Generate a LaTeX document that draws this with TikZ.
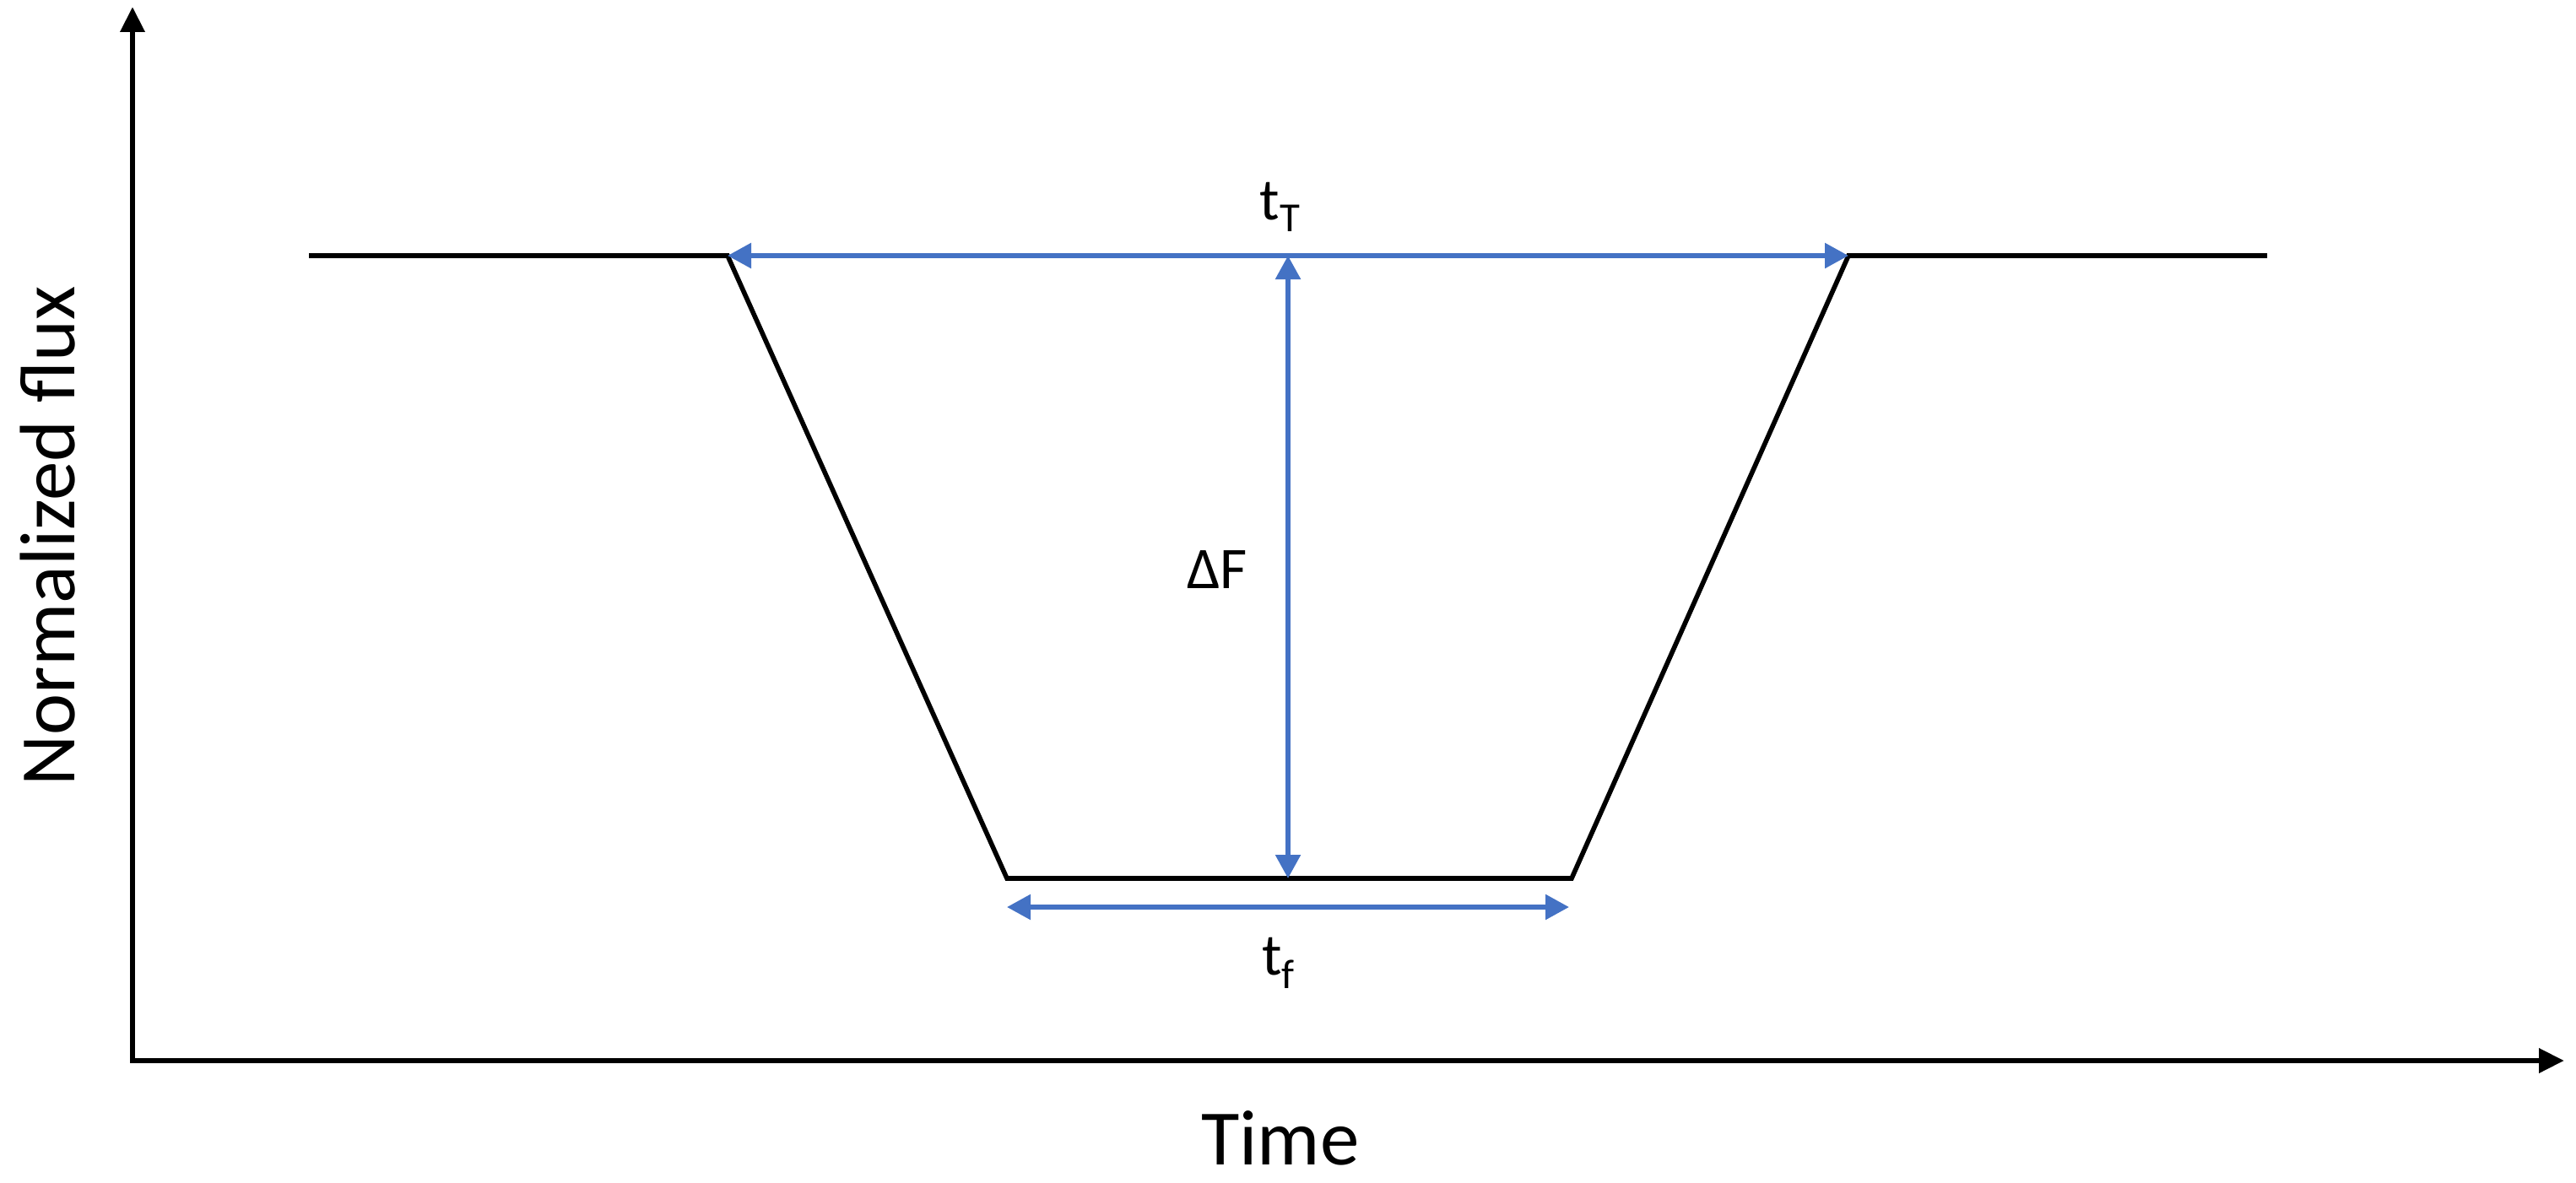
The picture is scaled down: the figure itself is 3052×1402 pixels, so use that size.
\documentclass[tikz,border=0pt]{standalone}
\usepackage{fontspec}
\setmainfont{Carlito}
\usetikzlibrary{arrows.meta}
\definecolor{blueline}{HTML}{4472C4}
\begin{document}
\begin{tikzpicture}[x=0.5pt,y=-0.5pt,
  axis/.style={line width=3.3pt,line join=miter,{Triangle[length=15pt,width=14pt]}-{Triangle[length=15pt,width=14pt]}},
  curve/.style={line width=2.8pt,line join=miter},
  dim/.style={blueline,line width=2.8pt,{Triangle[length=14pt,width=14.5pt]}-{Triangle[length=14pt,width=14.5pt]}},
  big/.style={font=\fontsize{46.5}{50}\selectfont,inner sep=0pt},
  lab/.style={font=\fontsize{35}{40}\selectfont,inner sep=0pt}]
\useasboundingbox (0,0) rectangle (3052,1402);
% axes
\coordinate (O) at (157,1257);
\coordinate (Ytop) at (157,8);
\coordinate (Xend) at (3038,1257);
\draw[axis] (Ytop) -- (O) -- (Xend);
% light curve
\coordinate (P0) at (366,303);
\coordinate (P1) at (862,303);
\coordinate (P2) at (1193,1041);
\coordinate (P3) at (1862,1041);
\coordinate (P4) at (2190,303);
\coordinate (P5) at (2686,303);
\draw[curve] (P0) -- (P1) -- (P2) -- (P3) -- (P4) -- (P5);
% dimension arrows
\coordinate (dFtop) at (1526,303);
\coordinate (dFbot) at (1526,1041);
\coordinate (tfL) at (1193,1075);
\coordinate (tfR) at (1859,1075);
\draw[dim] (P1) -- (P4);
\draw[dim] (dFtop) -- (dFbot);
\draw[dim] (tfL) -- (tfR);
% labels
\node[lab,anchor=base] (tT) at (1517,260) {t\textsubscript{T}};
\node[lab,anchor=base] (dF) at (1442,697) {ΔF};
\node[lab,anchor=base] (tf) at (1515,1155) {t\textsubscript{f}};
\node[big,anchor=base] (time) at (1517,1380) {Time};
\node[big,anchor=base,rotate=90] (ylab) at (88,635) {Normalized flux};
\end{tikzpicture}
\end{document}
